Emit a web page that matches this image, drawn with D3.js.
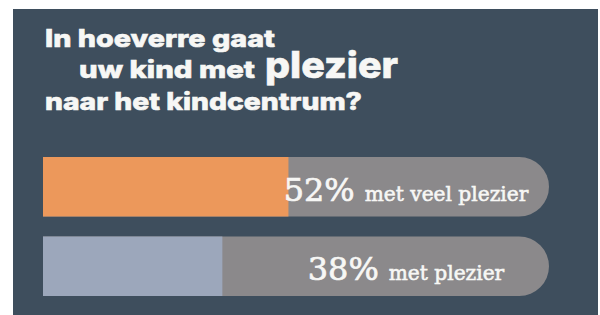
<!DOCTYPE html>
<html>
<head>
<meta charset="utf-8">
<script src="https://cdn.jsdelivr.net/npm/d3@7"></script>
<style>
  html, body { margin: 0; padding: 0; background: #fff; }
  svg { display: block; }
</style>
</head>
<body>
<svg id="chart" width="600" height="315"></svg>
<script>
// data
const categories = ['met veel plezier', 'met plezier'];
const values = [52, 38];
const valueLabels = ['52%', '38%'];
const titleLines = ['In hoeverre gaat', 'uw kind met', 'naar het kindcentrum?'];
const titleAccent = 'plezier';

const width = 600;
const height = 315;
const svg = d3.select('#chart');

// dark panel, white strip left / top / right
svg.append('rect')
  .attr('x', 13).attr('y', 9)
  .attr('width', 585).attr('height', height - 9)
  .attr('fill', '#3e4e5d');

// title - widths stretched to the reference's wide geometric face
const title = svg.append('g')
  .attr('fill', '#f7f7f5')
  .attr('stroke', '#f7f7f5')
  .attr('stroke-width', 0.6)
  .attr('font-family', 'Inter, "Open Sans", sans-serif')
  .attr('font-weight', 800);

const titleSpec = [
  { text: titleLines[0], x: 45, y: 47, size: 24, w: 230 },
  { text: titleLines[1], x: 79, y: 78, size: 24, w: 176 },
  { text: titleAccent, x: 265, y: 78, size: 37, w: 133 },
  { text: titleLines[2], x: 45, y: 110, size: 24, w: 317 }
];

title.selectAll('text')
  .data(titleSpec)
  .join('text')
  .attr('x', d => d.x)
  .attr('y', d => d.y)
  .attr('font-size', d => d.size)
  .attr('textLength', d => d.w)
  .attr('lengthAdjust', 'spacingAndGlyphs')
  .text(d => d.text);

// scales
const x = d3.scaleLinear().domain([0, 100]).range([43, 515]);
const trackEnd = 549;
const y = d3.scaleBand()
  .domain(categories)
  .range([157, 296])
  .paddingInner(0.252)
  .paddingOuter(0);
const color = d3.scaleOrdinal().domain(categories).range(['#ec985b', '#9ca7bb']);

// track with rounded right end only
function trackPath(y0, h) {
  const r = h / 2;
  const x0 = x(0);
  const x1 = trackEnd;
  return `M${x0},${y0}H${x1 - r}A${r},${r} 0 0 1 ${x1},${y0 + r}` +
    `A${r},${r} 0 0 1 ${x1 - r},${y0 + h}H${x0}Z`;
}

const rows = svg.append('g')
  .selectAll('g')
  .data(categories)
  .join('g');

rows.append('path')
  .attr('d', d => trackPath(y(d), y.bandwidth()))
  .attr('fill', '#8b898b');

rows.append('rect')
  .attr('x', x(0))
  .attr('y', d => y(d))
  .attr('width', (d, i) => x(values[i]) - x(0))
  .attr('height', y.bandwidth())
  .attr('fill', d => color(d));

// labels: percentage + category, centred in the grey part
const pctW = 71;
const gap = 10;
const stretch = 0.96;
const labelCentre = 406;

rows.each(function (d, i) {
  const g = d3.select(this);
  const by = y(d) + y.bandwidth() / 2 + 14;

  const pct = g.append('text')
    .attr('y', by)
    .attr('fill', '#f7f7f5')
    .attr('stroke', '#f7f7f5')
    .attr('stroke-width', 0.7)
    .attr('font-family', '"DejaVu Serif", serif')
    .attr('font-size', 32)
    .attr('textLength', pctW)
    .attr('lengthAdjust', 'spacingAndGlyphs')
    .text(valueLabels[i]);

  const lab = g.append('text')
    .attr('y', by)
    .attr('fill', '#f7f7f5')
    .attr('stroke', '#f7f7f5')
    .attr('stroke-width', 0.6)
    .attr('font-family', '"DejaVu Serif", serif')
    .attr('font-size', 21)
    .text(d);

  const lw = lab.node().getComputedTextLength() * stretch;
  lab.attr('textLength', lw).attr('lengthAdjust', 'spacingAndGlyphs');

  const x0 = labelCentre - (pctW + gap + lw) / 2;
  pct.attr('x', x0);
  lab.attr('x', x0 + pctW + gap);
});
</script>
</body>
</html>
